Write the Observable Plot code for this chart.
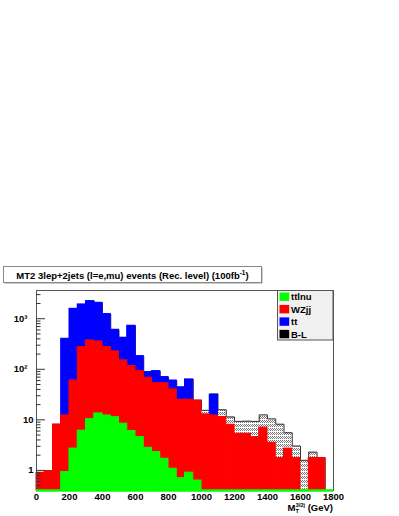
<!DOCTYPE html>
<html><head><meta charset="utf-8">
<script src="https://cdn.jsdelivr.net/npm/d3@7"></script>
<script src="https://cdn.jsdelivr.net/npm/@observablehq/plot@0.6"></script>
<style>
html,body{margin:0;padding:0;background:#fff;}
#chart{position:relative;width:399px;height:516px;}
svg{display:block;}
</style></head><body><div id="chart"></div>
<script>
// ---- data (36 bins of 50 GeV, 0..1800) ----
const binWidth = 50;
const binLow = d3.range(0, 1800, binWidth);
const ttlnu = [0,0,0,0.93,2.7,6.1,10.3,13.4,12.2,11.3,8.4,6.0,4.55,2.8,2.3,1.7,1.08,0.7,0.9,0.63,0,0,0,0,0,0,0,0,0,0,0,0,0,0,0,0];
const wzjj  = [0.9,0.97,8.1,11.3,57.3,269,362,342,263,215,142,110,87.5,65.2,50.7,51.3,38.9,24.3,24.1,23.4,12.8,12.2,11.4,8.0,5.3,5.3,4.55,7.0,3.5,1.75,2.7,1.75,0,1.75,1.75,0];
const tt    = [0,0,0,390,1514,1643,1860,1713,960,379,271,611,90,20,39,17,20,19,38,0,0,19.1,0,0,0,0,0,0,0,0,0,0,0,0,0,0];
const bl    = [0,0,0,0,0,0,0,0,0,0,0,0,0,0,0,0,0,0,0,0.5,2.6,1.2,4.4,3.4,4.0,4.1,4.75,5.5,6.9,6.45,2.85,1.28,1.58,0.55,0.03,0];

const seriesNames  = ["ttlnu", "WZjj", "tt", "B-L"];
const seriesColors = ["#00ff00", "#ff0000", "#0000ff", "#000000"];

const xTicks = [0,200,400,600,800,1000,1200,1400,1600,1800];
const yMajorA = [1, 10];
const yMajorALabels = ["1", "10"];
const yMajorB = [100, 1000];
const yMajorBLabels = ["10\u00B2", "10\u00B3"];
const yMinor = [0.5,0.6,0.7,0.8,0.9,2,3,4,5,6,7,8,9,20,30,40,50,60,70,80,90,200,300,400,500,600,700,800,900,2000,3000];

const titleText = "MT2 3lep+2jets (l=e,mu) events (Rec. level) (100fb";
const titleSup = "-1";
const yMin = 0.4, yMax = 3620;

// ---- stacking ----
const rows = binLow.map((x0, i) => {
  const g = ttlnu[i];
  const r = g + wzjj[i];
  const b = r + tt[i];
  const t = b + bl[i];
  return {x0, x1: x0 + binWidth, g, r, b, t};
});
const outline = [{x: 0, y: yMin}];
rows.forEach(d => outline.push({x: d.x0, y: d.t > 0 ? d.t : yMin}));
const lastNZ = rows.filter(d => d.t > 0).pop();
outline.push({x: lastNZ.x1, y: yMin});

const font = "'Liberation Sans', Arial, Helvetica, sans-serif";

const chart = Plot.plot({
  width: 399, height: 516,
  marginTop: 290, marginBottom: 26, marginLeft: 36, marginRight: 66,
  style: {fontFamily: font, fontSize: "9.5px", fontWeight: "bold", background: "#fff", color: "#000", overflow: "visible"},
  x: {domain: [0, 1800]},
  y: {type: "log", domain: [yMin, yMax]},
  marks: [
    Plot.rectY(rows.filter(d => d.t > 0), {x1: "x0", x2: "x1", y1: yMin, y2: "t", fill: "url(#blPattern)"}),
    Plot.line(outline, {x: "x", y: "y", curve: "step-after", stroke: "#333", strokeWidth: 1}),
    Plot.rectY(rows.filter(d => d.b > 0 && d.b > d.r), {x1: "x0", x2: "x1", y1: yMin, y2: "b", fill: seriesColors[2], stroke: seriesColors[2], strokeWidth: 1}),
    Plot.rectY(rows.filter(d => d.r > 0), {x1: "x0", x2: "x1", y1: yMin, y2: "r", fill: seriesColors[1], stroke: seriesColors[1], strokeWidth: 1}),
    Plot.rectY(rows.filter(d => d.g > 0), {x1: "x0", x2: "x1", y1: yMin, y2: "g", fill: seriesColors[0], stroke: seriesColors[0], strokeWidth: 1}),
    Plot.frame({stroke: "#555"}),
    Plot.ruleY([yMin], {stroke: seriesColors[0], strokeWidth: 2.5}),
    Plot.axisX(xTicks, {tickSize: 0, tickPadding: 3, label: null, tickFormat: d => String(d), fontWeight: "bold"}),
    Plot.axisY(yMinor, {tickSize: -4.5, tickFormat: () => "", label: null, stroke: "#333"}),
    Plot.axisY(yMajorA.concat(yMajorB), {tickSize: -9, tickFormat: () => "", label: null, stroke: "#333"}),
    Plot.text(yMajorA, {y: d => d, text: (d, i) => yMajorALabels[i], frameAnchor: "left", dx: -3, textAnchor: "end", fontWeight: "bold", fill: "#000"}),
    Plot.text(yMajorB, {y: d => d, text: (d, i) => yMajorBLabels[i], frameAnchor: "left", dx: -9, textAnchor: "end", fontWeight: "bold", fill: "#000"})
  ]
});
document.getElementById("chart").appendChild(chart);

const svg = d3.select(chart);
// pattern for B-L
const defs = svg.insert("defs", ":first-child");
const pat = defs.append("pattern").attr("id", "blPattern").attr("patternUnits", "userSpaceOnUse").attr("width", 4).attr("height", 4);
pat.append("rect").attr("width", 4).attr("height", 4).attr("fill", "#fff");
[[0,0],[2,0],[1,1],[3,1],[0,2],[2,2]].forEach(([x, y]) =>
  pat.append("rect").attr("x", x).attr("y", y).attr("width", 1).attr("height", 1).attr("fill", "#777"));

// title box
const tg = svg.append("g");
tg.append("rect").attr("x", 4.5).attr("y", 267.5).attr("width", 258).attr("height", 16).attr("fill", "#999");
tg.append("rect").attr("x", 3.5).attr("y", 266.5).attr("width", 258).attr("height", 16).attr("fill", "#fff").attr("stroke", "#888");
const tt1 = tg.append("text").attr("x", 132.5).attr("y", 278.5).attr("text-anchor", "middle")
  .style("font-family", font).style("font-size", "9.5px").style("font-weight", "bold").attr("fill", "#000");
tt1.append("tspan").text(titleText);
tt1.append("tspan").attr("dy", -3.5).style("font-size", "6.5px").text(titleSup);
tt1.append("tspan").attr("dy", 3.5).text(")");

// legend
const lg = svg.append("g");
lg.append("rect").attr("x", 277.5).attr("y", 290.5).attr("width", 55.5).attr("height", 49.5).attr("fill", "#f0f0f0").attr("stroke", "#555");
seriesNames.forEach((name, i) => {
  const cy = 296.7 + i * 12.45;
  lg.append("rect").attr("x", 279.5).attr("y", cy - 4.2).attr("width", 9.7).attr("height", 8.4).attr("fill", seriesColors[i]);
  lg.append("text").attr("x", 291).attr("y", cy).attr("dominant-baseline", "central").attr("text-anchor", "start")
    .style("font-family", font).style("font-size", "9.5px").style("font-weight", "bold").attr("fill", "#000").text(name);
});

// x axis title
const xt = svg.append("text").attr("x", 333).attr("y", 511).attr("text-anchor", "end")
  .style("font-family", font).style("font-size", "9.5px").style("font-weight", "bold").attr("fill", "#000");
xt.append("tspan").text("M");
xt.append("tspan").attr("dy", 1.5).style("font-size", "5.5px").text("T");
xt.append("tspan").attr("dx", -3).attr("dy", -5.5).style("font-size", "5.5px").text("3l2j");
xt.append("tspan").attr("dy", 4).text(" (GeV)");
</script>
</body></html>
